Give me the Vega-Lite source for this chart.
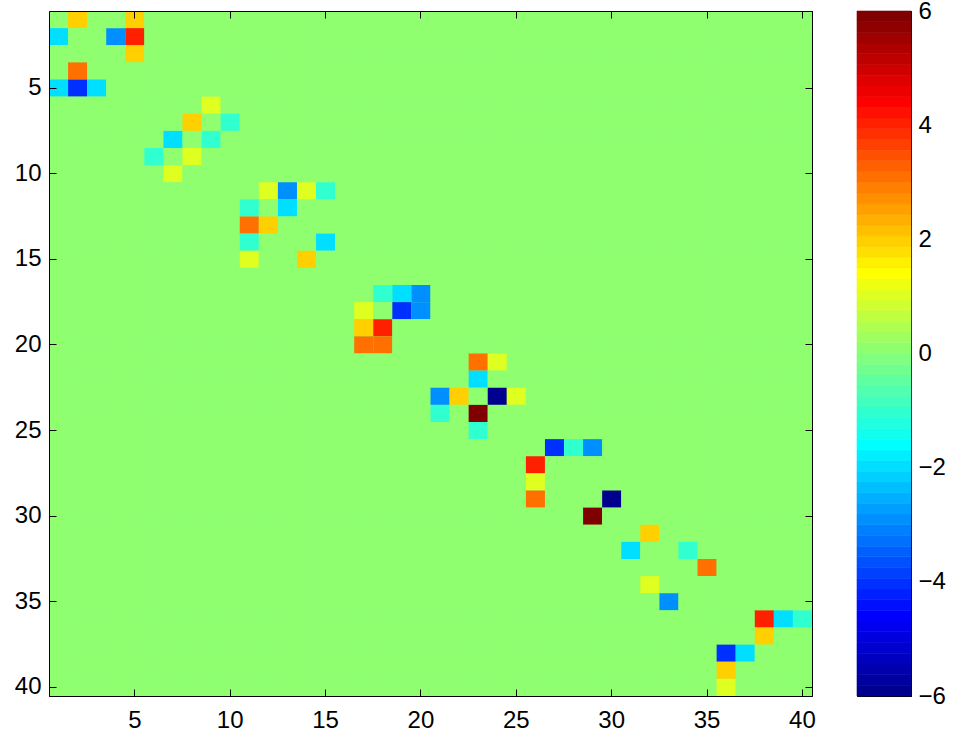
{
  "$schema": "https://vega.github.io/schema/vega-lite/v6.json",
  "background": "white",
  "padding": {"left": 13, "top": -2, "right": 5, "bottom": 5},
  "datasets": {
    "matrix": [
      {"r": 1, "v": [0,2,0,0,2,0,0,0,0,0, 0,0,0,0,0,0,0,0,0,0, 0,0,0,0,0,0,0,0,0,0, 0,0,0,0,0,0,0,0,0,0]},
      {"r": 2, "v": [-2,0,0,-3,4,0,0,0,0,0, 0,0,0,0,0,0,0,0,0,0, 0,0,0,0,0,0,0,0,0,0, 0,0,0,0,0,0,0,0,0,0]},
      {"r": 3, "v": [0,0,0,0,2,0,0,0,0,0, 0,0,0,0,0,0,0,0,0,0, 0,0,0,0,0,0,0,0,0,0, 0,0,0,0,0,0,0,0,0,0]},
      {"r": 4, "v": [0,3,0,0,0,0,0,0,0,0, 0,0,0,0,0,0,0,0,0,0, 0,0,0,0,0,0,0,0,0,0, 0,0,0,0,0,0,0,0,0,0]},
      {"r": 5, "v": [-2,-4,-2,0,0,0,0,0,0,0, 0,0,0,0,0,0,0,0,0,0, 0,0,0,0,0,0,0,0,0,0, 0,0,0,0,0,0,0,0,0,0]},
      {"r": 6, "v": [0,0,0,0,0,0,0,0,1,0, 0,0,0,0,0,0,0,0,0,0, 0,0,0,0,0,0,0,0,0,0, 0,0,0,0,0,0,0,0,0,0]},
      {"r": 7, "v": [0,0,0,0,0,0,0,2,0,-1, 0,0,0,0,0,0,0,0,0,0, 0,0,0,0,0,0,0,0,0,0, 0,0,0,0,0,0,0,0,0,0]},
      {"r": 8, "v": [0,0,0,0,0,0,-2,0,-1,0, 0,0,0,0,0,0,0,0,0,0, 0,0,0,0,0,0,0,0,0,0, 0,0,0,0,0,0,0,0,0,0]},
      {"r": 9, "v": [0,0,0,0,0,-1,0,1,0,0, 0,0,0,0,0,0,0,0,0,0, 0,0,0,0,0,0,0,0,0,0, 0,0,0,0,0,0,0,0,0,0]},
      {"r": 10, "v": [0,0,0,0,0,0,1,0,0,0, 0,0,0,0,0,0,0,0,0,0, 0,0,0,0,0,0,0,0,0,0, 0,0,0,0,0,0,0,0,0,0]},
      {"r": 11, "v": [0,0,0,0,0,0,0,0,0,0, 0,1,-3,1,-1,0,0,0,0,0, 0,0,0,0,0,0,0,0,0,0, 0,0,0,0,0,0,0,0,0,0]},
      {"r": 12, "v": [0,0,0,0,0,0,0,0,0,0, -1,0,-2,0,0,0,0,0,0,0, 0,0,0,0,0,0,0,0,0,0, 0,0,0,0,0,0,0,0,0,0]},
      {"r": 13, "v": [0,0,0,0,0,0,0,0,0,0, 3,2,0,0,0,0,0,0,0,0, 0,0,0,0,0,0,0,0,0,0, 0,0,0,0,0,0,0,0,0,0]},
      {"r": 14, "v": [0,0,0,0,0,0,0,0,0,0, -1,0,0,0,-2,0,0,0,0,0, 0,0,0,0,0,0,0,0,0,0, 0,0,0,0,0,0,0,0,0,0]},
      {"r": 15, "v": [0,0,0,0,0,0,0,0,0,0, 1,0,0,2,0,0,0,0,0,0, 0,0,0,0,0,0,0,0,0,0, 0,0,0,0,0,0,0,0,0,0]},
      {"r": 16, "v": [0,0,0,0,0,0,0,0,0,0, 0,0,0,0,0,0,0,0,0,0, 0,0,0,0,0,0,0,0,0,0, 0,0,0,0,0,0,0,0,0,0]},
      {"r": 17, "v": [0,0,0,0,0,0,0,0,0,0, 0,0,0,0,0,0,0,-1,-2,-3, 0,0,0,0,0,0,0,0,0,0, 0,0,0,0,0,0,0,0,0,0]},
      {"r": 18, "v": [0,0,0,0,0,0,0,0,0,0, 0,0,0,0,0,0,1,0,-4,-3, 0,0,0,0,0,0,0,0,0,0, 0,0,0,0,0,0,0,0,0,0]},
      {"r": 19, "v": [0,0,0,0,0,0,0,0,0,0, 0,0,0,0,0,0,2,4,0,0, 0,0,0,0,0,0,0,0,0,0, 0,0,0,0,0,0,0,0,0,0]},
      {"r": 20, "v": [0,0,0,0,0,0,0,0,0,0, 0,0,0,0,0,0,3,3,0,0, 0,0,0,0,0,0,0,0,0,0, 0,0,0,0,0,0,0,0,0,0]},
      {"r": 21, "v": [0,0,0,0,0,0,0,0,0,0, 0,0,0,0,0,0,0,0,0,0, 0,0,3,1,0,0,0,0,0,0, 0,0,0,0,0,0,0,0,0,0]},
      {"r": 22, "v": [0,0,0,0,0,0,0,0,0,0, 0,0,0,0,0,0,0,0,0,0, 0,0,-2,0,0,0,0,0,0,0, 0,0,0,0,0,0,0,0,0,0]},
      {"r": 23, "v": [0,0,0,0,0,0,0,0,0,0, 0,0,0,0,0,0,0,0,0,0, -3,2,0,-6,1,0,0,0,0,0, 0,0,0,0,0,0,0,0,0,0]},
      {"r": 24, "v": [0,0,0,0,0,0,0,0,0,0, 0,0,0,0,0,0,0,0,0,0, -1,0,6,0,0,0,0,0,0,0, 0,0,0,0,0,0,0,0,0,0]},
      {"r": 25, "v": [0,0,0,0,0,0,0,0,0,0, 0,0,0,0,0,0,0,0,0,0, 0,0,-1,0,0,0,0,0,0,0, 0,0,0,0,0,0,0,0,0,0]},
      {"r": 26, "v": [0,0,0,0,0,0,0,0,0,0, 0,0,0,0,0,0,0,0,0,0, 0,0,0,0,0,0,-4,-1,-3,0, 0,0,0,0,0,0,0,0,0,0]},
      {"r": 27, "v": [0,0,0,0,0,0,0,0,0,0, 0,0,0,0,0,0,0,0,0,0, 0,0,0,0,0,4,0,0,0,0, 0,0,0,0,0,0,0,0,0,0]},
      {"r": 28, "v": [0,0,0,0,0,0,0,0,0,0, 0,0,0,0,0,0,0,0,0,0, 0,0,0,0,0,1,0,0,0,0, 0,0,0,0,0,0,0,0,0,0]},
      {"r": 29, "v": [0,0,0,0,0,0,0,0,0,0, 0,0,0,0,0,0,0,0,0,0, 0,0,0,0,0,3,0,0,0,-6, 0,0,0,0,0,0,0,0,0,0]},
      {"r": 30, "v": [0,0,0,0,0,0,0,0,0,0, 0,0,0,0,0,0,0,0,0,0, 0,0,0,0,0,0,0,0,6,0, 0,0,0,0,0,0,0,0,0,0]},
      {"r": 31, "v": [0,0,0,0,0,0,0,0,0,0, 0,0,0,0,0,0,0,0,0,0, 0,0,0,0,0,0,0,0,0,0, 0,2,0,0,0,0,0,0,0,0]},
      {"r": 32, "v": [0,0,0,0,0,0,0,0,0,0, 0,0,0,0,0,0,0,0,0,0, 0,0,0,0,0,0,0,0,0,0, -2,0,0,-1,0,0,0,0,0,0]},
      {"r": 33, "v": [0,0,0,0,0,0,0,0,0,0, 0,0,0,0,0,0,0,0,0,0, 0,0,0,0,0,0,0,0,0,0, 0,0,0,0,3,0,0,0,0,0]},
      {"r": 34, "v": [0,0,0,0,0,0,0,0,0,0, 0,0,0,0,0,0,0,0,0,0, 0,0,0,0,0,0,0,0,0,0, 0,1,0,0,0,0,0,0,0,0]},
      {"r": 35, "v": [0,0,0,0,0,0,0,0,0,0, 0,0,0,0,0,0,0,0,0,0, 0,0,0,0,0,0,0,0,0,0, 0,0,-3,0,0,0,0,0,0,0]},
      {"r": 36, "v": [0,0,0,0,0,0,0,0,0,0, 0,0,0,0,0,0,0,0,0,0, 0,0,0,0,0,0,0,0,0,0, 0,0,0,0,0,0,0,4,-2,-1]},
      {"r": 37, "v": [0,0,0,0,0,0,0,0,0,0, 0,0,0,0,0,0,0,0,0,0, 0,0,0,0,0,0,0,0,0,0, 0,0,0,0,0,0,0,2,0,0]},
      {"r": 38, "v": [0,0,0,0,0,0,0,0,0,0, 0,0,0,0,0,0,0,0,0,0, 0,0,0,0,0,0,0,0,0,0, 0,0,0,0,0,-4,-2,0,0,0]},
      {"r": 39, "v": [0,0,0,0,0,0,0,0,0,0, 0,0,0,0,0,0,0,0,0,0, 0,0,0,0,0,0,0,0,0,0, 0,0,0,0,0,2,0,0,0,0]},
      {"r": 40, "v": [0,0,0,0,0,0,0,0,0,0, 0,0,0,0,0,0,0,0,0,0, 0,0,0,0,0,0,0,0,0,0, 0,0,0,0,0,1,0,0,0,0]}
    ],
    "bands": [
      {"lo": -6, "hi": -5.8125}, {"lo": -5.8125, "hi": -5.625}, {"lo": -5.625, "hi": -5.4375}, {"lo": -5.4375, "hi": -5.25},
      {"lo": -5.25, "hi": -5.0625}, {"lo": -5.0625, "hi": -4.875}, {"lo": -4.875, "hi": -4.6875}, {"lo": -4.6875, "hi": -4.5},
      {"lo": -4.5, "hi": -4.3125}, {"lo": -4.3125, "hi": -4.125}, {"lo": -4.125, "hi": -3.9375}, {"lo": -3.9375, "hi": -3.75},
      {"lo": -3.75, "hi": -3.5625}, {"lo": -3.5625, "hi": -3.375}, {"lo": -3.375, "hi": -3.1875}, {"lo": -3.1875, "hi": -3},
      {"lo": -3, "hi": -2.8125}, {"lo": -2.8125, "hi": -2.625}, {"lo": -2.625, "hi": -2.4375}, {"lo": -2.4375, "hi": -2.25},
      {"lo": -2.25, "hi": -2.0625}, {"lo": -2.0625, "hi": -1.875}, {"lo": -1.875, "hi": -1.6875}, {"lo": -1.6875, "hi": -1.5},
      {"lo": -1.5, "hi": -1.3125}, {"lo": -1.3125, "hi": -1.125}, {"lo": -1.125, "hi": -0.9375}, {"lo": -0.9375, "hi": -0.75},
      {"lo": -0.75, "hi": -0.5625}, {"lo": -0.5625, "hi": -0.375}, {"lo": -0.375, "hi": -0.1875}, {"lo": -0.1875, "hi": 0},
      {"lo": 0, "hi": 0.1875}, {"lo": 0.1875, "hi": 0.375}, {"lo": 0.375, "hi": 0.5625}, {"lo": 0.5625, "hi": 0.75},
      {"lo": 0.75, "hi": 0.9375}, {"lo": 0.9375, "hi": 1.125}, {"lo": 1.125, "hi": 1.3125}, {"lo": 1.3125, "hi": 1.5},
      {"lo": 1.5, "hi": 1.6875}, {"lo": 1.6875, "hi": 1.875}, {"lo": 1.875, "hi": 2.0625}, {"lo": 2.0625, "hi": 2.25},
      {"lo": 2.25, "hi": 2.4375}, {"lo": 2.4375, "hi": 2.625}, {"lo": 2.625, "hi": 2.8125}, {"lo": 2.8125, "hi": 3},
      {"lo": 3, "hi": 3.1875}, {"lo": 3.1875, "hi": 3.375}, {"lo": 3.375, "hi": 3.5625}, {"lo": 3.5625, "hi": 3.75},
      {"lo": 3.75, "hi": 3.9375}, {"lo": 3.9375, "hi": 4.125}, {"lo": 4.125, "hi": 4.3125}, {"lo": 4.3125, "hi": 4.5},
      {"lo": 4.5, "hi": 4.6875}, {"lo": 4.6875, "hi": 4.875}, {"lo": 4.875, "hi": 5.0625}, {"lo": 5.0625, "hi": 5.25},
      {"lo": 5.25, "hi": 5.4375}, {"lo": 5.4375, "hi": 5.625}, {"lo": 5.625, "hi": 5.8125}, {"lo": 5.8125, "hi": 6}
    ]
  },
  "hconcat": [
    {
      "data": {"name": "matrix"},
      "width": 763,
      "height": 685,
      "view": {"fill": "#8FFF70", "stroke": "black"},
      "transform": [
        {"flatten": ["v"]},
        {"window": [{"op": "row_number", "as": "c"}], "groupby": ["r"]}
      ],
      "layer": [
        {
          "mark": {"type": "rect"},
          "encoding": {
            "x": {
              "field": "c", "type": "ordinal",
              "scale": {"paddingInner": 0, "paddingOuter": 0},
              "axis": {"orient": "bottom", "values": [5, 10, 15, 20, 25, 30, 35, 40], "labelAngle": 0, "labelPadding": 19}
            },
            "y": {
              "field": "r", "type": "ordinal",
              "scale": {"paddingInner": 0, "paddingOuter": 0},
              "axis": {"orient": "left", "values": [5, 10, 15, 20, 25, 30, 35, 40], "labelPadding": 15}
            },
            "color": {
              "field": "v", "type": "quantitative",
              "scale": {
                "type": "quantize", "domain": [-6, 6],
                "range": ["#00008F","#00009F","#0000AF","#0000BF","#0000CF","#0000DF","#0000EF","#0000FF",
                          "#0010FF","#0020FF","#0030FF","#0040FF","#0050FF","#0060FF","#0070FF","#0080FF",
                          "#008FFF","#009FFF","#00AFFF","#00BFFF","#00CFFF","#00DFFF","#00EFFF","#00FFFF",
                          "#10FFEF","#20FFDF","#30FFCF","#40FFBF","#50FFAF","#60FF9F","#70FF8F","#80FF80",
                          "#8FFF70","#9FFF60","#AFFF50","#BFFF40","#CFFF30","#DFFF20","#EFFF10","#FFFF00",
                          "#FFEF00","#FFDF00","#FFCF00","#FFBF00","#FFAF00","#FF9F00","#FF8F00","#FF8000",
                          "#FF7000","#FF6000","#FF5000","#FF4000","#FF3000","#FF2000","#FF1000","#FF0000",
                          "#EF0000","#DF0000","#CF0000","#BF0000","#AF0000","#9F0000","#8F0000","#800000"]
              },
              "legend": null
            }
          }
        },
        {
          "mark": {"type": "rect", "opacity": 0},
          "encoding": {
            "x": {"field": "c", "type": "ordinal", "axis": {"orient": "top", "values": [5, 10, 15, 20, 25, 30, 35, 40], "labels": false}},
            "y": {"field": "r", "type": "ordinal", "axis": {"orient": "right", "values": [5, 10, 15, 20, 25, 30, 35, 40], "labels": false}}
          }
        }
      ],
      "resolve": {"axis": {"x": "independent", "y": "independent"}}
    },
    {
      "data": {"name": "bands"},
      "width": 54,
      "height": 685,
      "view": {"stroke": "black"},
      "layer": [
        {
          "mark": {"type": "rect", "strokeWidth": 0.6},
          "encoding": {
            "x": {"datum": 0, "type": "quantitative", "scale": {"domain": [0, 1], "nice": false}, "axis": null},
            "x2": {"datum": 1},
            "y": {
              "field": "lo", "type": "quantitative",
              "scale": {"domain": [-6, 6], "nice": false, "zero": false},
              "axis": {"orient": "right", "values": [-6, -4, -2, 0, 2, 4, 6], "labelPadding": 14}
            },
            "y2": {"field": "hi"},
            "color": {
              "field": "lo", "type": "quantitative",
              "scale": {
                "type": "quantize", "domain": [-6, 6],
                "range": ["#00008F","#00009F","#0000AF","#0000BF","#0000CF","#0000DF","#0000EF","#0000FF",
                          "#0010FF","#0020FF","#0030FF","#0040FF","#0050FF","#0060FF","#0070FF","#0080FF",
                          "#008FFF","#009FFF","#00AFFF","#00BFFF","#00CFFF","#00DFFF","#00EFFF","#00FFFF",
                          "#10FFEF","#20FFDF","#30FFCF","#40FFBF","#50FFAF","#60FF9F","#70FF8F","#80FF80",
                          "#8FFF70","#9FFF60","#AFFF50","#BFFF40","#CFFF30","#DFFF20","#EFFF10","#FFFF00",
                          "#FFEF00","#FFDF00","#FFCF00","#FFBF00","#FFAF00","#FF9F00","#FF8F00","#FF8000",
                          "#FF7000","#FF6000","#FF5000","#FF4000","#FF3000","#FF2000","#FF1000","#FF0000",
                          "#EF0000","#DF0000","#CF0000","#BF0000","#AF0000","#9F0000","#8F0000","#800000"]
              },
              "legend": null
            },
            "stroke": {
              "field": "lo", "type": "quantitative",
              "scale": {
                "type": "quantize", "domain": [-6, 6],
                "range": ["#00008F","#00009F","#0000AF","#0000BF","#0000CF","#0000DF","#0000EF","#0000FF",
                          "#0010FF","#0020FF","#0030FF","#0040FF","#0050FF","#0060FF","#0070FF","#0080FF",
                          "#008FFF","#009FFF","#00AFFF","#00BFFF","#00CFFF","#00DFFF","#00EFFF","#00FFFF",
                          "#10FFEF","#20FFDF","#30FFCF","#40FFBF","#50FFAF","#60FF9F","#70FF8F","#80FF80",
                          "#8FFF70","#9FFF60","#AFFF50","#BFFF40","#CFFF30","#DFFF20","#EFFF10","#FFFF00",
                          "#FFEF00","#FFDF00","#FFCF00","#FFBF00","#FFAF00","#FF9F00","#FF8F00","#FF8000",
                          "#FF7000","#FF6000","#FF5000","#FF4000","#FF3000","#FF2000","#FF1000","#FF0000",
                          "#EF0000","#DF0000","#CF0000","#BF0000","#AF0000","#9F0000","#8F0000","#800000"]
              },
              "legend": null
            }
          }
        },
        {
          "mark": {"type": "rect", "opacity": 0},
          "encoding": {
            "x": {"datum": 0, "type": "quantitative", "axis": null},
            "x2": {"datum": 1},
            "y": {"field": "lo", "type": "quantitative", "axis": {"orient": "left", "values": [-6, -4, -2, 0, 2, 4, 6], "labels": false}},
            "y2": {"field": "hi"}
          }
        }
      ],
      "resolve": {"axis": {"y": "independent"}}
    }
  ],
  "spacing": 45,
  "bounds": "flush",
  "resolve": {"scale": {"color": "independent", "stroke": "independent"}},
  "config": {
    "view": {"stroke": "black", "strokeWidth": 1},
    "axis": {
      "title": null,
      "grid": false,
      "domain": true,
      "domainColor": "black",
      "domainWidth": 1,
      "ticks": true,
      "tickColor": "black",
      "tickWidth": 1,
      "tickSize": -7,
      "labelFont": "Liberation Sans",
      "labelFontSize": 24,
      "labelColor": "black"
    }
  }
}
